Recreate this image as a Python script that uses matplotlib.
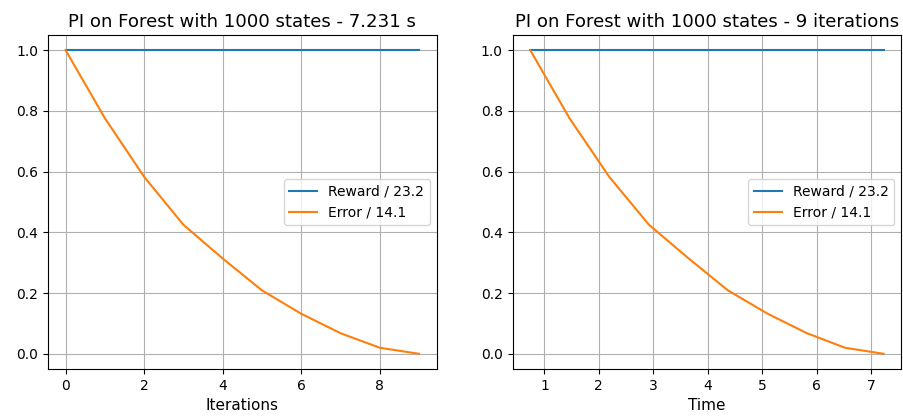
import matplotlib
matplotlib.use("Agg")
import matplotlib.pyplot as plt

# Policy iteration on Forest, 1000 states
iterations = [0, 1, 2, 3, 4, 5, 6, 7, 8, 9]
times = [0.74, 1.46, 2.19, 2.92, 3.65, 4.37, 5.10, 5.82, 6.52, 7.231]
reward = [1.0, 1.0, 1.0, 1.0, 1.0, 1.0, 1.0, 1.0, 1.0, 1.0]
error = [1.0, 0.776, 0.583, 0.425, 0.314, 0.209, 0.132, 0.068, 0.02, 0.0]

reward_label = "Reward / 23.2"
error_label = "Error / 14.1"

fig = plt.figure(figsize=(9.04, 4.16), dpi=100)
ax1 = fig.add_axes([0.053, 0.113, 0.430, 0.803])
ax2 = fig.add_axes([0.567, 0.113, 0.430, 0.803])

ax1.plot(iterations, reward, label=reward_label)
ax1.plot(iterations, error, label=error_label)
ax1.set_title("PI on Forest with 1000 states - 7.231 s", fontsize=13.1)
ax1.set_xlabel("Iterations", fontsize=11)
ax1.grid(True)
ax1.legend(loc="center right")

ax2.plot(times, reward, label=reward_label)
ax2.plot(times, error, label=error_label)
ax2.set_title("PI on Forest with 1000 states - 9 iterations", fontsize=13.1)
ax2.set_xlabel("Time", fontsize=11)
ax2.grid(True)
ax2.legend(loc="center right")

fig.savefig("out.png", dpi=100)
